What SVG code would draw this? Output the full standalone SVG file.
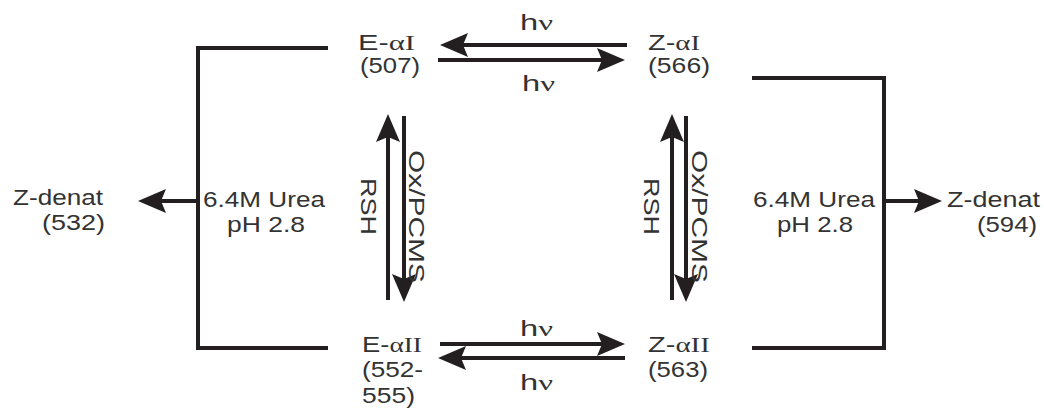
<svg xmlns="http://www.w3.org/2000/svg" width="1044" height="412" viewBox="0 0 1044 412">
<style>
.t{font-family:"Liberation Sans",Arial,sans-serif;font-size:22px;fill:#333333}
.s{font-family:"Liberation Serif","Times New Roman",serif}
.ln{fill:none;stroke:#231f20;stroke-width:4;stroke-linejoin:miter}
.ar{fill:none;stroke:#231f20;stroke-width:4;marker-end:url(#ah)}
</style>
<defs>
<marker id="ah" viewBox="0 0 28 24" refX="18" refY="12" markerWidth="28" markerHeight="24" markerUnits="userSpaceOnUse" orient="auto">
<path d="M0,0 L28,12 L0,24 L5,12 Z" fill="#231f20"/>
</marker>
</defs>
<rect width="1044" height="412" fill="#ffffff"/>
<g id="connectors">
<path class="ln" d="M328,48 L198,48 L198,348 L328,348"/>
<path class="ln" d="M752,78 L884,78 L884,348 L752,348"/>
<path class="ar" d="M627,45 L450,45"/>
<path class="ar" d="M438,60 L615,60"/>
<path class="ar" d="M440,344 L615,344"/>
<path class="ar" d="M625,358 L448,358"/>
<path class="ar" d="M388,300 L388,124"/>
<path class="ar" d="M404,116 L404,292"/>
<path class="ar" d="M672,300 L672,124"/>
<path class="ar" d="M686,116 L686,292"/>
<path class="ar" d="M198,201 L148,201"/>
<path class="ar" d="M884,201 L932,201"/>
<text class="t" x="520" y="30" textLength="33" lengthAdjust="spacingAndGlyphs">h<tspan class="s">ν</tspan></text>
<text class="t" x="522" y="91" textLength="33" lengthAdjust="spacingAndGlyphs">h<tspan class="s">ν</tspan></text>
<text class="t" x="520" y="336" textLength="33" lengthAdjust="spacingAndGlyphs">h<tspan class="s">ν</tspan></text>
<text class="t" x="520" y="390" textLength="33" lengthAdjust="spacingAndGlyphs">h<tspan class="s">ν</tspan></text>
<text class="t" transform="translate(361,178) rotate(90)" textLength="57" lengthAdjust="spacingAndGlyphs">RSH</text>
<text class="t" transform="translate(409,150) rotate(90)" textLength="133" lengthAdjust="spacingAndGlyphs">Ox/PCMS</text>
<text class="t" transform="translate(644,178) rotate(90)" textLength="57" lengthAdjust="spacingAndGlyphs">RSH</text>
<text class="t" transform="translate(692,150) rotate(90)" textLength="133" lengthAdjust="spacingAndGlyphs">Ox/PCMS</text>
<text class="t" x="203" y="207" textLength="122" lengthAdjust="spacingAndGlyphs">6.4M Urea</text>
<text class="t" x="227" y="232" textLength="78" lengthAdjust="spacingAndGlyphs">pH 2.8</text>
<text class="t" x="753" y="207" textLength="122" lengthAdjust="spacingAndGlyphs">6.4M Urea</text>
<text class="t" x="777" y="232" textLength="76" lengthAdjust="spacingAndGlyphs">pH 2.8</text>
</g>
<g id="E-aI">
<text class="t" x="358" y="50" textLength="57" lengthAdjust="spacingAndGlyphs">E-<tspan class="s">αI</tspan></text>
<text class="t" x="360" y="73" textLength="60" lengthAdjust="spacingAndGlyphs">(507)</text>
</g>
<g id="Z-aI">
<text class="t" x="648" y="50" textLength="52" lengthAdjust="spacingAndGlyphs">Z-<tspan class="s">αI</tspan></text>
<text class="t" x="648" y="73" textLength="62" lengthAdjust="spacingAndGlyphs">(566)</text>
</g>
<g id="E-aII">
<text class="t" x="362" y="352" textLength="60" lengthAdjust="spacingAndGlyphs">E-<tspan class="s">αII</tspan></text>
<text class="t" x="362" y="377" textLength="61" lengthAdjust="spacingAndGlyphs">(552-</text>
<text class="t" x="362" y="403" textLength="53" lengthAdjust="spacingAndGlyphs">555)</text>
</g>
<g id="Z-aII">
<text class="t" x="648" y="352" textLength="62" lengthAdjust="spacingAndGlyphs">Z-<tspan class="s">αII</tspan></text>
<text class="t" x="648" y="377" textLength="60" lengthAdjust="spacingAndGlyphs">(563)</text>
</g>
<g id="Z-denat-left">
<text class="t" x="13" y="205" textLength="90" lengthAdjust="spacingAndGlyphs">Z-denat</text>
<text class="t" x="42" y="230" textLength="63" lengthAdjust="spacingAndGlyphs">(532)</text>
</g>
<g id="Z-denat-right">
<text class="t" x="947" y="207" textLength="93" lengthAdjust="spacingAndGlyphs">Z-denat</text>
<text class="t" x="977" y="232" textLength="60" lengthAdjust="spacingAndGlyphs">(594)</text>
</g>
</svg>
